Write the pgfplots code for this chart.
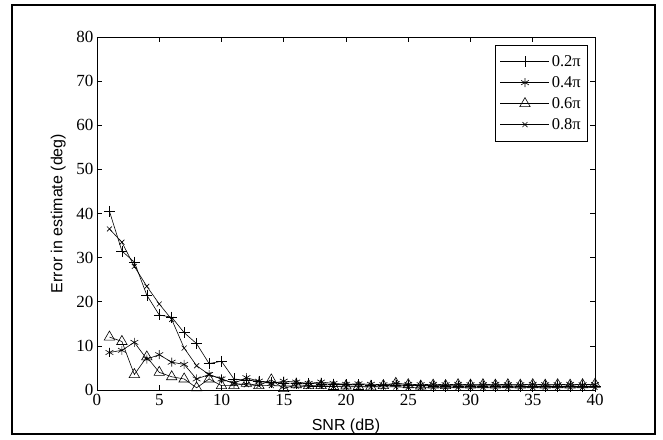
\documentclass[border=0pt]{standalone}
\usepackage{fontspec}
\setmainfont{Liberation Serif}
\newfontfamily\arial{Liberation Sans}
\usepackage{pgfplots}
\pgfplotsset{compat=1.18}
\pgfplotstableread{
x   a     b     c     d
1   40.5  8.5   12.0  36.5
2   31.5  9.0   11.0  33.5
3   29.0  10.8  3.5   28.0
4   21.5  7.0   7.5   23.5
5   17.0  8.0   4.0   19.5
6   16.5  6.3   3.0   16.0
7   13.0  5.8   2.5   9.5
8   10.5  2.5   0.5   5.5
9   6.0   3.5   2.5   3.5
10  6.5   2.5   1.0   2.5
11  2.5   1.5   1.0   1.5
12  2.2   2.8   1.5   1.2
13  2.0   2.0   1.0   1.0
14  1.8   1.5   2.3   1.0
15  1.6   2.0   0.3   0.9
16  1.5   1.8   1.2   0.9
17  1.5   1.5   1.0   0.8
18  1.4   1.8   1.0   0.8
19  1.3   1.5   0.8   0.8
20  1.2   1.3   0.9   0.7
21  1.2   1.4   0.8   0.7
22  1.1   1.3   0.7   0.7
23  1.1   1.2   1.0   0.7
24  1.0   1.5   1.5   0.7
25  1.0   1.3   1.2   0.6
26  1.0   1.2   0.9   0.6
27  0.9   1.3   1.1   0.6
28  0.9   1.2   1.0   0.6
29  0.9   1.3   1.2   0.6
30  0.9   1.2   1.1   0.6
31  0.9   1.2   1.2   0.6
32  0.9   1.3   1.1   0.6
33  0.9   1.2   1.2   0.6
34  0.8   1.2   1.1   0.6
35  0.8   1.3   1.2   0.6
36  0.8   1.2   1.1   0.6
37  0.8   1.2   1.2   0.6
38  0.8   1.3   1.1   0.6
39  0.8   1.2   1.2   0.6
40  0.8   1.2   1.3   0.6
}\errdata
\begin{document}
\begin{tikzpicture}
\useasboundingbox (-97pt,-49pt) rectangle (566pt,390pt);
\draw[line width=1.4pt] (-85pt,-44pt) rectangle (558pt,385pt);
\begin{axis}[
  scale only axis,
  width=498pt, height=353pt,
  xmin=0, xmax=40, ymin=0, ymax=80,
  xtick={0,5,...,40}, ytick={0,10,...,80},
  tick align=inside, tick pos=both,
  major tick length=5pt,
  axis line style={line width=0.6pt},
  tick style={line width=0.6pt, black},
  /pgf/number format/assume math mode=true,
  tick label style={font=\fontsize{17}{18}\selectfont},
  xticklabel style={yshift=-1pt},
  xlabel={\arial SNR (dB)},
  ylabel={\arial Error in estimate (deg)},
  label style={font=\fontsize{16}{18}\selectfont},
  xlabel style={yshift=-6pt},
  ylabel style={yshift=4pt},
  every axis plot/.append style={black, line width=0.6pt},
  legend style={at={(rel axis cs:0.986,0.977)}, anchor=north east,
    font=\fontsize{16.5}{19}\selectfont, draw=black, line width=0.6pt,
    inner xsep=5pt, inner ysep=8pt, row sep=4.5pt},
  legend cell align=left,
  legend image code/.code={\draw[mark repeat=2, mark phase=2, #1]
    plot coordinates {(0pt,0pt) (24.5pt,0pt) (49pt,0pt)};},
]
\addplot[mark=+, mark size=5.5pt] table[x=x, y=a] {\errdata};
\addplot[mark=asterisk, mark size=4.5pt] table[x=x, y=b] {\errdata};
\addplot[mark=triangle, mark size=6pt, mark options={fill=white}] table[x=x, y=c] {\errdata};
\addplot[mark=x, mark size=3.5pt] table[x=x, y=d] {\errdata};
\legend{0.2π, 0.4π, 0.6π, 0.8π}
\end{axis}
\end{tikzpicture}
\end{document}
